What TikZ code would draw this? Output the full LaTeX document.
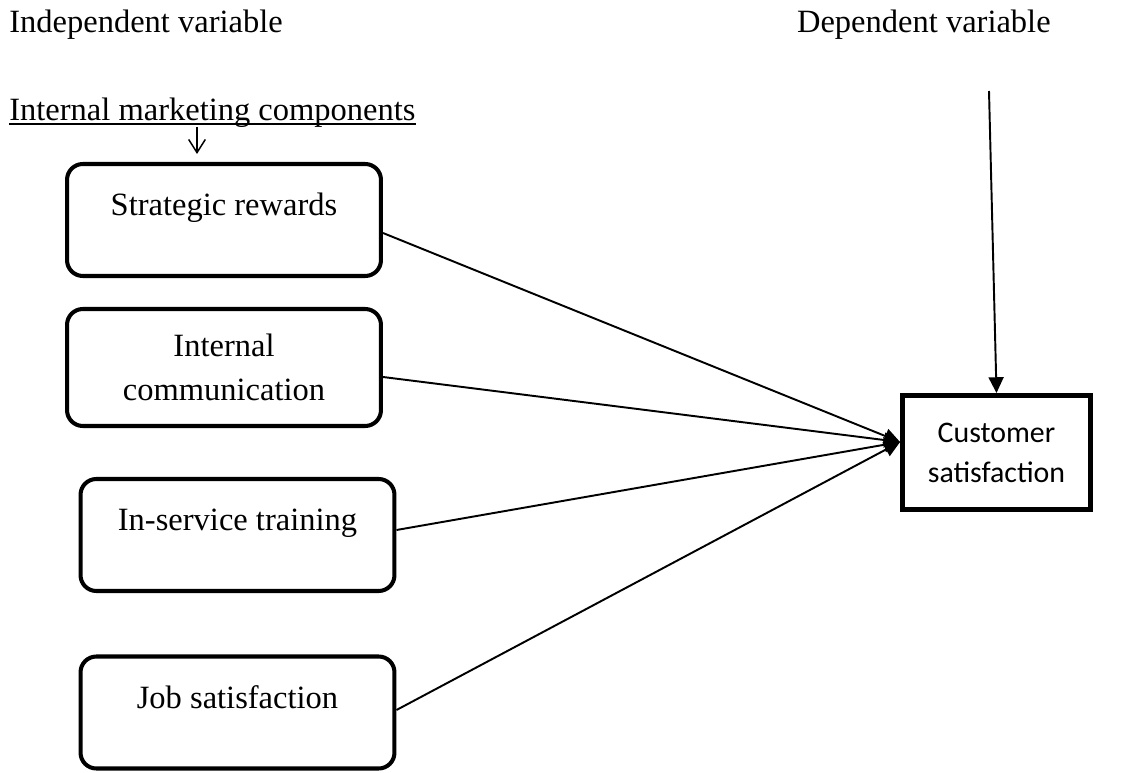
\documentclass[tikz,border=0pt]{standalone}
\usepackage{fontspec}
\setmainfont{Liberation Serif}
\newfontfamily\boxsans{Carlito}
\usetikzlibrary{arrows.meta}
\begin{document}
\begin{tikzpicture}[x=0.02cm,y=-0.02cm]
\tikzstyle{every node}=[font=\fontsize{18.5}{25}\selectfont]
\tikzstyle{comp}=[draw,rectangle,rounded corners=9pt,line width=2.3pt,minimum width=6.28cm,minimum height=2.24cm,align=center]
\tikzstyle{oneline}=[text height=12.6pt,text depth=17.2pt]
\tikzstyle{link}=[line width=1.1pt,-{Triangle[length=9pt,width=8.5pt]}]
\useasboundingbox (0,0) rectangle (1126,773);

\node[anchor=base west,inner sep=0](iv) at (9,33) {Independent variable};
\node[anchor=base east,inner sep=0](dv) at (1051,33) {Dependent variable};
\node[anchor=base west,inner sep=0](imc) at (9,121) {Internal marketing components};
\draw[line width=0.85pt] ([yshift=-0.06cm]imc.base west) -- ([yshift=-0.06cm]imc.base east);

\node[comp,oneline](sr) at (224,220) {Strategic rewards};
\node[comp,minimum height=2.34cm](ic) at (224,367.5) {Internal\\communication};
\node[comp,oneline](ist) at (237.5,535) {In-service training};
\node[comp,oneline](js) at (237.5,712.5) {Job satisfaction};
\node[draw,rectangle,line width=2.8pt,minimum width=3.76cm,minimum height=2.28cm,align=center,font=\boxsans\fontsize{17}{22.7}\selectfont](cs) at (996.5,452.5) {Customer\\satisfaction};

\coordinate (imctop) at (197,127);
\coordinate (imcbot) at (197,154);
\draw[line width=0.85pt,-{Straight Barb[length=7.5pt,width=9.5pt]}] (imctop) -- (imcbot);

\coordinate (dvtop) at (989,91);
\draw[link] (dvtop) -- (cs.north);

\draw[link] ([yshift=-0.26cm]sr.east) -- ([yshift=0.21cm]cs.west);
\draw[link] ([yshift=-0.19cm]ic.east) -- ([yshift=0.21cm]cs.west);
\draw[link] ([yshift=0.1cm]ist.east) -- ([yshift=0.21cm]cs.west);
\draw[link] ([yshift=0.05cm]js.east) -- ([yshift=0.21cm]cs.west);
\end{tikzpicture}
\end{document}
